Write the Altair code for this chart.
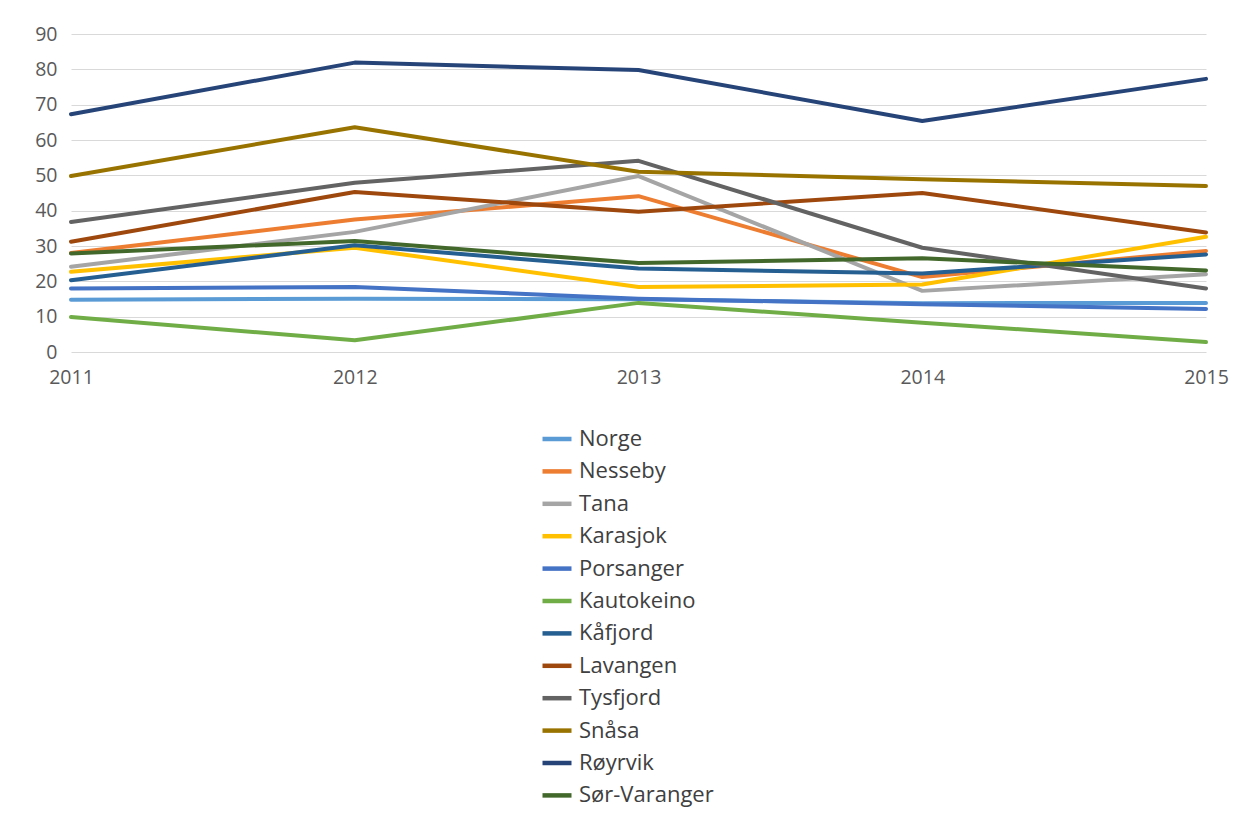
import altair as alt
import pandas as pd

years = [2011, 2012, 2013, 2014, 2015]
series_names = ["Norge", "Nesseby", "Tana", "Karasjok", "Porsanger", "Kautokeino",
                "Kåfjord", "Lavangen", "Tysfjord", "Snåsa", "Røyrvik", "Sør-Varanger"]
norge = [14.8, 15.1, 14.9, 13.8, 13.9]
nesseby = [28.0, 37.5, 44.1, 21.2, 28.6]
tana = [24.1, 34.0, 49.8, 17.3, 22.0]
karasjok = [22.7, 29.5, 18.4, 19.1, 32.6]
porsanger = [18.0, 18.4, 15.1, 13.5, 12.2]
kautokeino = [9.9, 3.3, 13.9, 8.3, 2.8]
kafjord = [20.3, 30.2, 23.6, 22.2, 27.6]
lavangen = [31.2, 45.3, 39.7, 45.0, 33.8]
tysfjord = [36.8, 47.9, 54.1, 29.5, 18.0]
snasa = [49.8, 63.6, 51.0, 48.9, 47.0]
royrvik = [67.3, 81.9, 79.8, 65.4, 77.3]
sor_varanger = [27.9, 31.4, 25.2, 26.5, 23.1]
colors = ["#5B9BD5", "#ED7D31", "#A5A5A5", "#FFC000", "#4472C4", "#70AD47",
          "#255E91", "#9E480E", "#636363", "#997300", "#264478", "#43682B"]

all_values = [norge, nesseby, tana, karasjok, porsanger, kautokeino,
              kafjord, lavangen, tysfjord, snasa, royrvik, sor_varanger]
rows = []
for i, (name, vals) in enumerate(zip(series_names, all_values)):
    for y, v in zip(years, vals):
        rows.append({"year": y, "value": v, "series": name, "order": i})
df = pd.DataFrame(rows)

chart = alt.Chart(df).mark_line(strokeWidth=4, strokeCap="round", strokeJoin="round").encode(
    x=alt.X("year:Q", scale=alt.Scale(domain=[2011, 2015], nice=False, zero=False),
            axis=alt.Axis(values=years, format="d", title=None, grid=False, domain=False,
                          ticks=False, labelPadding=16, labelFontSize=19.5, labelFlush=False,
                          labelColor="#595959", labelFont="Open Sans")),
    y=alt.Y("value:Q", scale=alt.Scale(domain=[0, 90], nice=False),
            axis=alt.Axis(values=list(range(0, 100, 10)), title=None, domain=False, ticks=False,
                          labelPadding=14, labelFontSize=19.5, labelColor="#595959",
                          labelFont="Open Sans", gridColor="#D9D9D9", gridWidth=1.2)),
    color=alt.Color("series:N", scale=alt.Scale(domain=series_names, range=colors),
                    legend=alt.Legend(title=None, orient="none", legendX=469, legendY=388,
                                      symbolType="stroke", symbolSize=841, symbolStrokeWidth=4.5,
                                      labelFontSize=22, labelFont="Open Sans", labelColor="#404040",
                                      labelOffset=5, rowPadding=4.4, direction="vertical")),
    detail="series:N",
    order="order:Q",
).properties(
    width=1135, height=318,
    autosize=alt.AutoSizeParams(type="none"),
    padding={"left": 63, "top": 26, "right": 42, "bottom": 467},
).configure_view(stroke=None)

chart.save("out.html", embed_options={"renderer": "svg", "actions": False})
